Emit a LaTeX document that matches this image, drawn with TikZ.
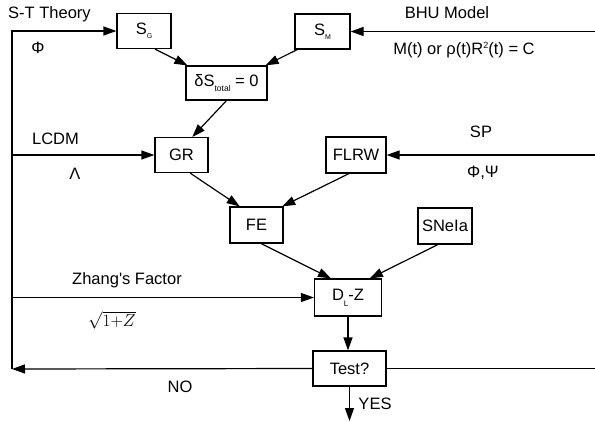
\documentclass[tikz,border=0pt]{standalone}
\usepackage{fontspec}
\setmainfont{Liberation Sans}
\usetikzlibrary{arrows.meta,calc}
\tikzset{
  lbl/.style={font=\fontsize{16.5}{19}\selectfont, inner sep=0pt},
  bx/.style={draw, line width=1.2pt, font=\fontsize{16.5}{19}\selectfont, inner sep=0pt, minimum height=35pt},
  ln/.style={line width=1.2pt},
  arr/.style={line width=1.2pt, -{Triangle[length=13pt,width=9pt]}},
}
\begin{document}
\begin{tikzpicture}[x=1pt,y=-1pt]
\useasboundingbox (0,0) rectangle (595,421);
% boxes
\node[bx, minimum width=54pt] (SG) at (144,31) {S\raisebox{-4pt}{\fontsize{7}{7}\selectfont G}};
\node[bx, minimum width=55pt] (SM) at (322.5,31.5) {S\raisebox{-4pt}{\fontsize{7}{7}\selectfont M}};
\node[bx, minimum width=81pt, minimum height=34pt] (dS) at (226.5,83) {δS\raisebox{-5pt}{\fontsize{8.5}{8.5}\selectfont total} = 0};
\node[bx, minimum width=53pt] (GR) at (181.5,155) {GR};
\node[bx, minimum width=60pt, minimum height=36pt] (FLRW) at (356,155) {FLRW};
\node[bx, minimum width=53pt, minimum height=36pt] (FE) at (256.5,225) {FE};
\node[bx, minimum width=54pt, minimum height=36pt] (SN) at (445,226) {SNeIa};
\node[bx, minimum width=67pt, minimum height=37pt] (DL) at (348,297.5) {D\raisebox{-6pt}{\fontsize{8}{8}\selectfont L}-Z};
\node[bx, minimum width=73pt] (T) at (349.5,368.5) {Test?};
% coordinates
\coordinate (Lt) at (12,31);
\coordinate (Lb) at (12,369);
\coordinate (Llcdm) at (12,155);
\coordinate (Lzh) at (12,297.5);
\coordinate (Rbhu) at (595,31.5);
\coordinate (Rsp) at (595,155);
\coordinate (Rt) at (595,368.5);
\coordinate (yes) at (349.5,421);
% connectors
\draw[arr] ($(SG.south)!0.4!(SG.south east)$) -- ($(dS.north west)!0.05!(dS.north)$);
\draw[arr] ($(SM.south west)!0.1!(SM.south)$) -- ($(dS.north east)!0.05!(dS.north)$);
\draw[arr] (dS.south) -- ($(GR.north)!0.4!(GR.north east)$);
\draw[arr] ($(GR.south)!0.32!(GR.south east)$) -- ($(FE.north west)!0.38!(FE.north)$);
\draw[arr] ($(FLRW.south)!0.23!(FLRW.south west)$) -- ($(FE.north east)!0.05!(FE.north)$);
\draw[arr] ($(FE.south)!0.17!(FE.south east)$) -- ($(DL.north west)!0.5!(DL.north)$);
\draw[arr] ($(SN.south)!0.26!(SN.south west)$) -- ($(DL.north)!0.64!(DL.north east)$);
\draw[arr] (DL.south) -- (DL.south |- T.north);
\draw[arr] (T.south) -- (yes);
\draw[arr] (T.west) -- (Lb);
\draw[arr] (Lb) -- (Lt) -- (SG.west);
\draw[arr] (Llcdm) -- (GR.west);
\draw[arr] (Lzh) -- (DL.west);
\draw[arr] (Rbhu) -- (SM.east);
\draw[arr] (Rsp) -- (FLRW.east);
\draw[ln] (Rt) -- (T.east);
% labels
\node[lbl, anchor=west] (st) at (8,14) {S-T Theory};
\node[lbl] (phi) at (38,48) {Φ};
\node[lbl] (bhu) at (447,13) {BHU Model};
\node[lbl] (mt) at (464,50) {M(t) or ρ(t)R\raisebox{6pt}{\fontsize{9}{9}\selectfont 2}(t) = C};
\node[lbl] (lcdm) at (55.5,139) {LCDM};
\node[lbl] (lam) at (75,174) {Λ};
\node[lbl] (sp) at (481,131.5) {SP};
\node[lbl] (phipsi) at (483,173) {Φ,Ψ};
\node[lbl] (zh) at (127,280) {Zhang\textquotesingle s Factor};
\node[lbl] (sq) at (112,320) {\fontsize{17}{20}\selectfont$\sqrt{1{+}Z}$};
\node[lbl] (no) at (180,387) {NO};
\node[lbl] (yest) at (375,404) {YES};
\end{tikzpicture}
\end{document}
